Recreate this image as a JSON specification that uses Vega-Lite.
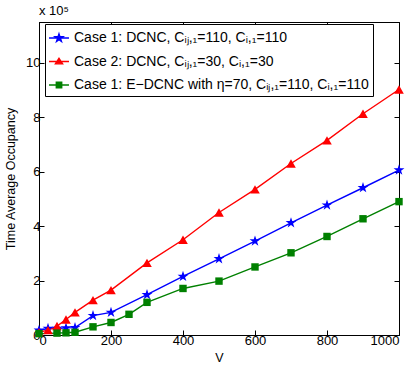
{
  "$schema": "https://vega.github.io/schema/vega-lite/v6.json",
  "width": 360,
  "height": 313,
  "autosize": "none",
  "padding": {"left": 39, "top": 22, "right": 15, "bottom": 32},
  "background": "white",
  "title": {"text": "x 10⁵", "anchor": "start", "fontSize": 13, "font": "Liberation Sans", "fontWeight": "normal", "offset": 4, "frame": "group"},
  "data": {"values": [
    {"V": 0, "occ": 0.17, "series": "Case 1: DCNC,  Cᵢⱼ,₁=110, Cᵢ,₁=110"},
    {"V": 25, "occ": 0.24, "series": "Case 1: DCNC,  Cᵢⱼ,₁=110, Cᵢ,₁=110"},
    {"V": 50, "occ": 0.24, "series": "Case 1: DCNC,  Cᵢⱼ,₁=110, Cᵢ,₁=110"},
    {"V": 75, "occ": 0.26, "series": "Case 1: DCNC,  Cᵢⱼ,₁=110, Cᵢ,₁=110"},
    {"V": 100, "occ": 0.27, "series": "Case 1: DCNC,  Cᵢⱼ,₁=110, Cᵢ,₁=110"},
    {"V": 150, "occ": 0.71, "series": "Case 1: DCNC,  Cᵢⱼ,₁=110, Cᵢ,₁=110"},
    {"V": 200, "occ": 0.83, "series": "Case 1: DCNC,  Cᵢⱼ,₁=110, Cᵢ,₁=110"},
    {"V": 300, "occ": 1.48, "series": "Case 1: DCNC,  Cᵢⱼ,₁=110, Cᵢ,₁=110"},
    {"V": 400, "occ": 2.15, "series": "Case 1: DCNC,  Cᵢⱼ,₁=110, Cᵢ,₁=110"},
    {"V": 500, "occ": 2.8, "series": "Case 1: DCNC,  Cᵢⱼ,₁=110, Cᵢ,₁=110"},
    {"V": 600, "occ": 3.45, "series": "Case 1: DCNC,  Cᵢⱼ,₁=110, Cᵢ,₁=110"},
    {"V": 700, "occ": 4.12, "series": "Case 1: DCNC,  Cᵢⱼ,₁=110, Cᵢ,₁=110"},
    {"V": 800, "occ": 4.77, "series": "Case 1: DCNC,  Cᵢⱼ,₁=110, Cᵢ,₁=110"},
    {"V": 900, "occ": 5.41, "series": "Case 1: DCNC,  Cᵢⱼ,₁=110, Cᵢ,₁=110"},
    {"V": 1000, "occ": 6.06, "series": "Case 1: DCNC,  Cᵢⱼ,₁=110, Cᵢ,₁=110"},
    {"V": 0, "occ": 0.1, "series": "Case 2: DCNC,  Cᵢⱼ,₁=30, Cᵢ,₁=30"},
    {"V": 25, "occ": 0.18, "series": "Case 2: DCNC,  Cᵢⱼ,₁=30, Cᵢ,₁=30"},
    {"V": 50, "occ": 0.33, "series": "Case 2: DCNC,  Cᵢⱼ,₁=30, Cᵢ,₁=30"},
    {"V": 75, "occ": 0.57, "series": "Case 2: DCNC,  Cᵢⱼ,₁=30, Cᵢ,₁=30"},
    {"V": 100, "occ": 0.83, "series": "Case 2: DCNC,  Cᵢⱼ,₁=30, Cᵢ,₁=30"},
    {"V": 150, "occ": 1.28, "series": "Case 2: DCNC,  Cᵢⱼ,₁=30, Cᵢ,₁=30"},
    {"V": 200, "occ": 1.65, "series": "Case 2: DCNC,  Cᵢⱼ,₁=30, Cᵢ,₁=30"},
    {"V": 300, "occ": 2.65, "series": "Case 2: DCNC,  Cᵢⱼ,₁=30, Cᵢ,₁=30"},
    {"V": 400, "occ": 3.5, "series": "Case 2: DCNC,  Cᵢⱼ,₁=30, Cᵢ,₁=30"},
    {"V": 500, "occ": 4.5, "series": "Case 2: DCNC,  Cᵢⱼ,₁=30, Cᵢ,₁=30"},
    {"V": 600, "occ": 5.35, "series": "Case 2: DCNC,  Cᵢⱼ,₁=30, Cᵢ,₁=30"},
    {"V": 700, "occ": 6.3, "series": "Case 2: DCNC,  Cᵢⱼ,₁=30, Cᵢ,₁=30"},
    {"V": 800, "occ": 7.15, "series": "Case 2: DCNC,  Cᵢⱼ,₁=30, Cᵢ,₁=30"},
    {"V": 900, "occ": 8.13, "series": "Case 2: DCNC,  Cᵢⱼ,₁=30, Cᵢ,₁=30"},
    {"V": 1000, "occ": 9.02, "series": "Case 2: DCNC,  Cᵢⱼ,₁=30, Cᵢ,₁=30"},
    {"V": 0, "occ": 0.05, "series": "Case 1: E−DCNC with η=70, Cᵢⱼ,₁=110, Cᵢ,₁=110"},
    {"V": 50, "occ": 0.07, "series": "Case 1: E−DCNC with η=70, Cᵢⱼ,₁=110, Cᵢ,₁=110"},
    {"V": 75, "occ": 0.08, "series": "Case 1: E−DCNC with η=70, Cᵢⱼ,₁=110, Cᵢ,₁=110"},
    {"V": 100, "occ": 0.1, "series": "Case 1: E−DCNC with η=70, Cᵢⱼ,₁=110, Cᵢ,₁=110"},
    {"V": 150, "occ": 0.3, "series": "Case 1: E−DCNC with η=70, Cᵢⱼ,₁=110, Cᵢ,₁=110"},
    {"V": 200, "occ": 0.46, "series": "Case 1: E−DCNC with η=70, Cᵢⱼ,₁=110, Cᵢ,₁=110"},
    {"V": 250, "occ": 0.76, "series": "Case 1: E−DCNC with η=70, Cᵢⱼ,₁=110, Cᵢ,₁=110"},
    {"V": 300, "occ": 1.2, "series": "Case 1: E−DCNC with η=70, Cᵢⱼ,₁=110, Cᵢ,₁=110"},
    {"V": 400, "occ": 1.71, "series": "Case 1: E−DCNC with η=70, Cᵢⱼ,₁=110, Cᵢ,₁=110"},
    {"V": 500, "occ": 1.98, "series": "Case 1: E−DCNC with η=70, Cᵢⱼ,₁=110, Cᵢ,₁=110"},
    {"V": 600, "occ": 2.5, "series": "Case 1: E−DCNC with η=70, Cᵢⱼ,₁=110, Cᵢ,₁=110"},
    {"V": 700, "occ": 3.02, "series": "Case 1: E−DCNC with η=70, Cᵢⱼ,₁=110, Cᵢ,₁=110"},
    {"V": 800, "occ": 3.62, "series": "Case 1: E−DCNC with η=70, Cᵢⱼ,₁=110, Cᵢ,₁=110"},
    {"V": 900, "occ": 4.27, "series": "Case 1: E−DCNC with η=70, Cᵢⱼ,₁=110, Cᵢ,₁=110"},
    {"V": 1000, "occ": 4.9, "series": "Case 1: E−DCNC with η=70, Cᵢⱼ,₁=110, Cᵢ,₁=110"}
  ]},
  "resolve": {
    "scale": {"color": "independent", "shape": "independent", "fill": "independent", "stroke": "independent", "size": "independent"},
    "axis": {"x": "independent", "y": "independent"}
  },
  "layer": [
    {
      "mark": {"type": "line", "strokeWidth": 1.4},
      "encoding": {
        "x": {"field": "V", "type": "quantitative", "scale": {"domain": [0, 1000], "nice": false},
              "axis": {"orient": "bottom", "values": [0, 200, 400, 600, 800, 1000], "format": "d", "title": "V", "labelPadding": 4, "titlePadding": 4}},
        "y": {"field": "occ", "type": "quantitative", "scale": {"domain": [0, 11.5], "nice": false},
              "axis": {"orient": "left", "values": [0, 2, 4, 6, 8, 10], "title": "Time Average Occupancy", "labelPadding": 4, "titlePadding": 8}},
        "color": {"field": "series", "type": "nominal", "legend": null,
                  "scale": {"domain": ["Case 1: DCNC,  Cᵢⱼ,₁=110, Cᵢ,₁=110", "Case 2: DCNC,  Cᵢⱼ,₁=30, Cᵢ,₁=30", "Case 1: E−DCNC with η=70, Cᵢⱼ,₁=110, Cᵢ,₁=110"], "range": ["#0000ff", "#ff0000", "#008000"]}}
      }
    },
    {
      "mark": {"type": "point", "filled": true, "opacity": 1},
      "encoding": {
        "x": {"field": "V", "type": "quantitative", "axis": null},
        "y": {"field": "occ", "type": "quantitative", "axis": null},
        "color": {"field": "series", "type": "nominal", "legend": null,
                  "scale": {"domain": ["Case 1: DCNC,  Cᵢⱼ,₁=110, Cᵢ,₁=110", "Case 2: DCNC,  Cᵢⱼ,₁=30, Cᵢ,₁=30", "Case 1: E−DCNC with η=70, Cᵢⱼ,₁=110, Cᵢ,₁=110"], "range": ["#0000ff", "#ff0000", "#008000"]}},
        "shape": {"field": "series", "type": "nominal", "legend": null,
                  "scale": {"domain": ["Case 1: DCNC,  Cᵢⱼ,₁=110, Cᵢ,₁=110", "Case 2: DCNC,  Cᵢⱼ,₁=30, Cᵢ,₁=30", "Case 1: E−DCNC with η=70, Cᵢⱼ,₁=110, Cᵢ,₁=110"],
                            "range": ["M0,-1L0.225,-0.309L0.951,-0.309L0.363,0.118L0.588,0.809L0,0.382L-0.588,0.809L-0.363,0.118L-0.951,-0.309L-0.225,-0.309Z", "triangle-up", "square"]}},
        "size": {"field": "series", "type": "nominal", "legend": null,
                 "scale": {"domain": ["Case 1: DCNC,  Cᵢⱼ,₁=110, Cᵢ,₁=110", "Case 2: DCNC,  Cᵢⱼ,₁=30, Cᵢ,₁=30", "Case 1: E−DCNC with η=70, Cᵢⱼ,₁=110, Cᵢ,₁=110"], "range": [130, 55, 34]}}
      }
    },
    {
      "transform": [{"filter": "datum.V < 0"}],
      "mark": {"type": "point", "filled": true, "opacity": 1, "size": 324, "strokeWidth": 1.4},
      "encoding": {
        "x": {"field": "V", "type": "quantitative",
              "axis": {"orient": "top", "values": [0, 200, 400, 600, 800, 1000], "title": null, "labels": false}},
        "y": {"field": "occ", "type": "quantitative",
              "axis": {"orient": "right", "values": [0, 2, 4, 6, 8, 10], "title": null, "labels": false}},
        "fill": {"field": "series", "type": "nominal",
                 "legend": {"orient": "none", "legendX": 6, "legendY": 2, "title": null},
                 "scale": {"domain": ["Case 1: DCNC,  Cᵢⱼ,₁=110, Cᵢ,₁=110", "Case 2: DCNC,  Cᵢⱼ,₁=30, Cᵢ,₁=30", "Case 1: E−DCNC with η=70, Cᵢⱼ,₁=110, Cᵢ,₁=110"], "range": ["#0000ff", "#ff0000", "#008000"]}},
        "stroke": {"field": "series", "type": "nominal",
                   "legend": {"orient": "none", "legendX": 6, "legendY": 2, "title": null},
                   "scale": {"domain": ["Case 1: DCNC,  Cᵢⱼ,₁=110, Cᵢ,₁=110", "Case 2: DCNC,  Cᵢⱼ,₁=30, Cᵢ,₁=30", "Case 1: E−DCNC with η=70, Cᵢⱼ,₁=110, Cᵢ,₁=110"], "range": ["#0000ff", "#ff0000", "#008000"]}},
        "shape": {"field": "series", "type": "nominal",
                  "legend": {"orient": "none", "legendX": 6, "legendY": 2, "title": null},
                  "scale": {"domain": ["Case 1: DCNC,  Cᵢⱼ,₁=110, Cᵢ,₁=110", "Case 2: DCNC,  Cᵢⱼ,₁=30, Cᵢ,₁=30", "Case 1: E−DCNC with η=70, Cᵢⱼ,₁=110, Cᵢ,₁=110"],
                            "range": ["M-1.11,0H1.11M0,-0.46L0.104,-0.142L0.437,-0.142L0.167,0.054L0.27,0.372L0,0.176L-0.27,0.372L-0.167,0.054L-0.437,-0.142L-0.104,-0.142Z", "M-1.11,0H1.11M0,-0.36L0.4,0.26L-0.4,0.26Z", "M-1.11,0H1.11M-0.3,-0.3H0.3V0.3H-0.3Z"]}}
      }
    }
  ],
  "config": {
    "view": {"stroke": "black", "strokeWidth": 1},
    "axis": {"domainColor": "black", "domainWidth": 1, "tickColor": "black", "tickWidth": 1, "tickSize": -5, "grid": false,
             "labelColor": "black", "labelFont": "Liberation Sans", "labelFontSize": 13,
             "titleColor": "black", "titleFont": "Liberation Sans", "titleFontSize": 12.5, "titleFontWeight": "normal"},
    "legend": {"strokeColor": "black", "fillColor": "white", "padding": 4, "labelFont": "Liberation Sans", "labelFontSize": 14,
               "labelColor": "black", "labelLimit": 0, "symbolSize": 324, "symbolStrokeWidth": 1.4, "rowPadding": 6.5, "labelOffset": 5}
  }
}
